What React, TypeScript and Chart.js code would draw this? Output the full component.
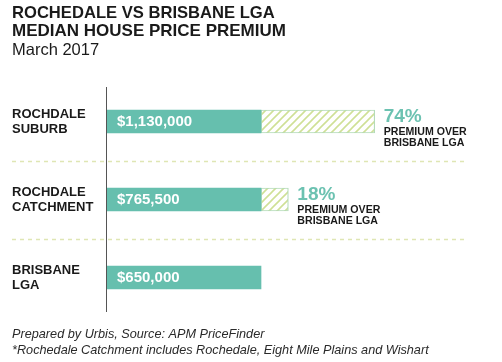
import React, { useEffect, useRef } from "react";
import { Chart, registerables } from "chart.js";

Chart.register(...registerables);

const titleLines = ["ROCHEDALE VS BRISBANE LGA", "MEDIAN HOUSE PRICE PREMIUM"];
const subtitle = "March 2017";
const footnotes = [
  "Prepared by Urbis, Source: APM PriceFinder",
  "*Rochedale Catchment includes Rochedale, Eight Mile Plains and Wishart",
];
const categories = [
  ["ROCHDALE", "SUBURB"],
  ["ROCHDALE", "CATCHMENT"],
  ["BRISBANE", "LGA"],
];
const medianPrices = [1130000, 765500, 650000];
const brisbaneMedian = 650000;
const premiumPct = ["74%", "18%", ""];
const premiumNote = ["PREMIUM OVER", "BRISBANE LGA"];
const xMax = 1500000;

const FONT = "'Liberation Sans', Arial, sans-serif";
const TEAL = "#66bfae";

function makeHatch(): CanvasPattern | string {
  const c = document.createElement("canvas");
  c.width = 8;
  c.height = 8;
  const g = c.getContext("2d");
  if (!g) return "#e6efc4";
  g.fillStyle = "#ffffff";
  g.fillRect(0, 0, 8, 8);
  g.strokeStyle = "#cfe096";
  g.lineWidth = 1.6;
  g.beginPath();
  g.moveTo(-2, 10);
  g.lineTo(10, -2);
  g.moveTo(-2, 2);
  g.lineTo(2, -2);
  g.moveTo(6, 10);
  g.lineTo(10, 6);
  g.stroke();
  return g.createPattern(c, "repeat") || "#e6efc4";
}

const fmt = (v: number) => "$" + v.toLocaleString("en-US");

const decoPlugin = {
  id: "deco",
  beforeDatasetsDraw(chart: any) {
    const { ctx } = chart;
    const y = chart.scales.y;
    ctx.save();
    ctx.strokeStyle = "#dfe6b4";
    ctx.lineWidth = 1.5;
    ctx.setLineDash([4, 4]);
    for (let i = 0; i < categories.length - 1; i++) {
      const yy = Math.round((y.getPixelForValue(i) + y.getPixelForValue(i + 1)) / 2) + 0.5;
      ctx.beginPath();
      ctx.moveTo(12, yy);
      ctx.lineTo(467, yy);
      ctx.stroke();
    }
    ctx.restore();
  },
  afterDatasetsDraw(chart: any) {
    const { ctx } = chart;
    const x = chart.scales.x;
    const y = chart.scales.y;
    const x0 = x.getPixelForValue(0);
    ctx.save();
    ctx.strokeStyle = "#555555";
    ctx.lineWidth = 1;
    ctx.beginPath();
    ctx.moveTo(Math.round(x0) - 0.5, 87);
    ctx.lineTo(Math.round(x0) - 0.5, 312);
    ctx.stroke();
    medianPrices.forEach((p, i) => {
      const cy = y.getPixelForValue(i);
      ctx.fillStyle = "#ffffff";
      ctx.font = `bold 15px ${FONT}`;
      ctx.textAlign = "left";
      ctx.textBaseline = "middle";
      ctx.fillText(fmt(p), x0 + 10, cy);
      if (premiumPct[i]) {
        const xe = x.getPixelForValue(p) + 9;
        ctx.fillStyle = "#6cc2b1";
        ctx.font = `bold 19px ${FONT}`;
        ctx.fillText(premiumPct[i], xe, cy - 5);
        ctx.fillStyle = "#1a1a1a";
        ctx.font = `bold 10.6px ${FONT}`;
        ctx.fillText(premiumNote[0], xe, cy + 11);
        ctx.fillText(premiumNote[1], xe, cy + 22);
      }
    });
    ctx.restore();
  },
  afterDraw(chart: any) {
    const { ctx } = chart;
    ctx.save();
    ctx.textAlign = "left";
    ctx.textBaseline = "middle";
    ctx.fillStyle = "#1a1a1a";
    ctx.font = `bold 16.6px ${FONT}`;
    ctx.fillText(titleLines[0], 12, 13.5);
    ctx.font = `bold 17px ${FONT}`;
    ctx.fillText(titleLines[1], 12, 31.5);
    ctx.font = `16.5px ${FONT}`;
    ctx.fillText(subtitle, 12, 50.5);
    ctx.fillStyle = "#2a2a2a";
    ctx.font = `italic 12.7px ${FONT}`;
    ctx.fillText(footnotes[0], 12, 334);
    ctx.fillText(footnotes[1], 12, 350.5);
    ctx.restore();
  },
};

export default function App() {
  const ref = useRef<HTMLCanvasElement>(null);
  useEffect(() => {
    if (!ref.current) return;
    const hatch = makeHatch();
    const chart = new Chart(ref.current, {
      type: "bar",
      data: {
        labels: categories as any,
        datasets: [
          {
            label: "Brisbane LGA median",
            data: categories.map(() => brisbaneMedian),
            backgroundColor: TEAL,
            borderWidth: 0,
            barThickness: 23,
          },
          {
            label: "Premium",
            data: medianPrices.map((p) => p - brisbaneMedian),
            backgroundColor: hatch as any,
            borderColor: "#b4dbb8",
            borderWidth: 1.2,
            borderSkipped: false,
            barThickness: 23,
          },
        ],
      },
      options: {
        indexAxis: "y",
        responsive: false,
        animation: false,
        events: [],
        layout: { padding: { top: 82.5, bottom: 45.5, left: 12, right: 39.6 } },
        plugins: {
          legend: { display: false },
          title: { display: false },
          tooltip: { enabled: false },
        },
        scales: {
          x: {
            stacked: true,
            display: false,
            min: 0,
            max: xMax,
          },
          y: {
            stacked: true,
            grid: { display: false },
            border: { display: false },
            ticks: {
              crossAlign: "far",
              color: "#1a1a1a",
              font: { family: FONT, size: 13, weight: "bold", lineHeight: 1.15 },
            },
            afterFit(scale: any) {
              scale.width = 95;
            },
          },
        },
      },
      plugins: [decoPlugin],
    });
    return () => chart.destroy();
  }, []);
  return (
    <div style={{ position: "fixed", left: 0, top: 0, width: 502, height: 362, background: "#ffffff" }}>
      <canvas ref={ref} width={502} height={362} style={{ width: 502, height: 362, display: "block" }} />
    </div>
  );
}
